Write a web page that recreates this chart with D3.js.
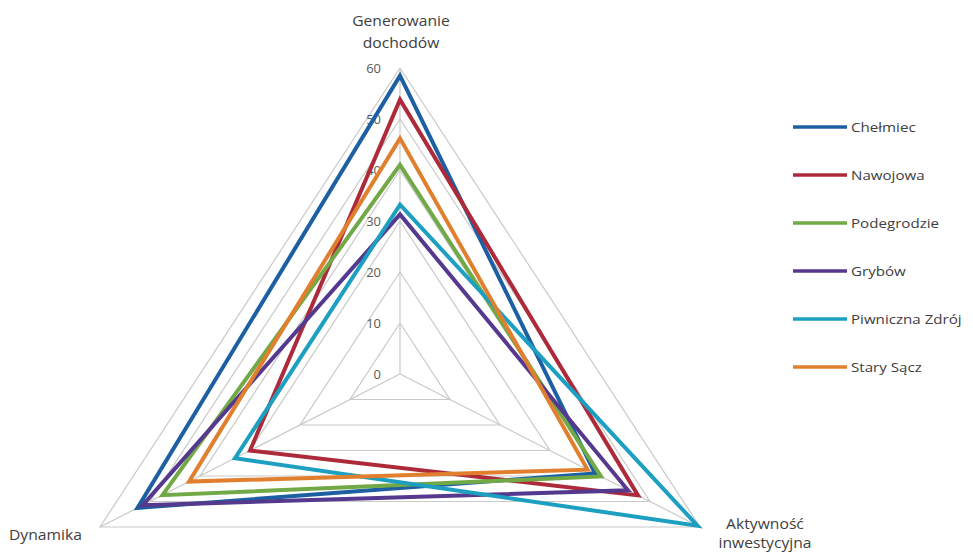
<!DOCTYPE html>
<html><head><meta charset="utf-8">
<script src="https://cdn.jsdelivr.net/npm/d3@7"></script>
<style>body{margin:0;background:#fff}svg{display:block}text{font-family:"Open Sans",sans-serif}</style>
</head><body>
<svg id="c" width="973" height="554"></svg>
<script>
const axesLabels = [["Generowanie","dochodów"],["Aktywność","inwestycyjna"],["Dynamika"]];
const seriesNames = ["Chełmiec","Nawojowa","Podegrodzie","Grybów","Piwniczna Zdrój","Stary Sącz"];
const seriesColors = ["#1c5fa3","#ad2a3a","#72a947","#55398e","#1c9fc0","#e07f2e"];
const chelmiec   = [58.5, 39, 52.5];
const nawojowa   = [53.8, 47.6, 30];
const podegrodzie= [41, 40.2, 47.5];
const grybow     = [31.3, 45.6, 51.5];
const piwniczna  = [33.2, 59.5, 33];
const staryS     = [46.2, 37.5, 42.2];
const seriesValues = [chelmiec, nawojowa, podegrodzie, grybow, piwniczna, staryS];
const tickValues = [0,10,20,30,40,50,60];

const svg = d3.select("#c");
const cx = 400, cy = 374;
const r = d3.scaleLinear().domain([0,60]).range([0,306]);
const kx = 300/(306*Math.sin(Math.PI/3));
const ang = i => i*2*Math.PI/3;
const pt = (i,v) => [cx + kx*r(v)*Math.sin(ang(i)), cy - r(v)*Math.cos(ang(i))];

const g = svg.append("g");
// grid triangles
tickValues.slice(1).forEach(t=>{
  g.append("path").attr("d", d3.line()([0,1,2,0].map(i=>pt(i,t))))
   .attr("fill","none").attr("stroke","#c9c9c9").attr("stroke-width",1.2);
});
// spokes
[0,1,2].forEach(i=>{
  g.append("line").attr("x1",cx).attr("y1",cy).attr("x2",pt(i,60)[0]).attr("y2",pt(i,60)[1])
   .attr("stroke","#c9c9c9").attr("stroke-width",1.2);
});
// tick labels
tickValues.forEach(t=>{
  g.append("text").attr("x",381).attr("y",cy - r(t)).attr("dy","0.35em")
   .attr("text-anchor","end").attr("font-size",13).attr("fill","#595959").text(t);
});
// series
const line = d3.line().curve(d3.curveLinearClosed);
seriesValues.forEach((vals,s)=>{
  g.append("path").attr("d", line(vals.map((v,i)=>pt(i,v))))
   .attr("fill","none").attr("stroke",seriesColors[s]).attr("stroke-width",4)
   .attr("stroke-linejoin","miter");
});
// axis labels
const lab = (x,y,lines,anchor,lh)=>{
  const t = g.append("text").attr("font-size",14).attr("fill","#404040").attr("text-anchor",anchor)
    .attr("transform",`translate(${x},${y}) scale(1.12,1)`);
  lines.forEach((l,k)=>t.append("tspan").attr("x",0).attr("y",k*lh).text(l));
};
lab(401,26,axesLabels[0],"middle",22);
lab(765,529,axesLabels[1],"middle",19);
lab(9,540,axesLabels[2],"start",22);
// legend
seriesNames.forEach((n,s)=>{
  const y = 127 + s*48;
  g.append("line").attr("x1",793).attr("x2",847).attr("y1",y).attr("y2",y)
   .attr("stroke",seriesColors[s]).attr("stroke-width",3.5);
  g.append("text").attr("transform",`translate(851,${y}) scale(1.12,1)`).attr("dy","0.35em")
   .attr("font-size",13.5).attr("fill","#404040").text(n);
});
</script>
</body></html>
